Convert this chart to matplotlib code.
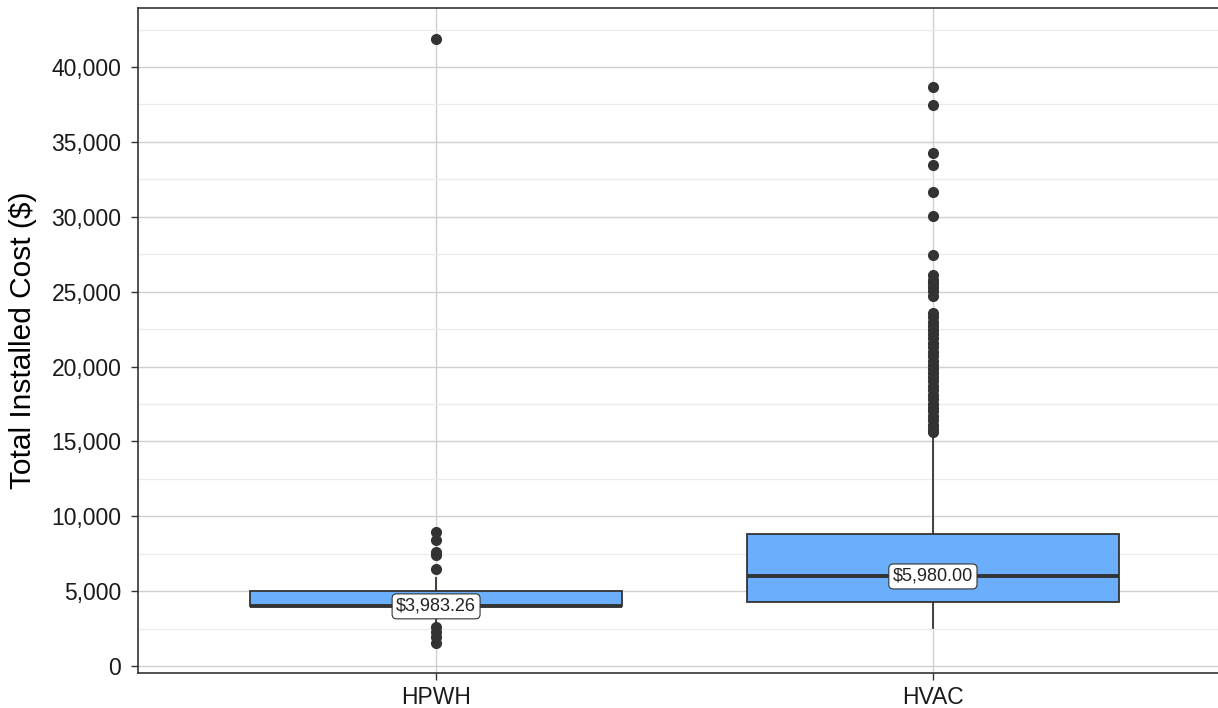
import matplotlib.pyplot as plt
from matplotlib.ticker import FuncFormatter, MultipleLocator

plt.rcParams["font.family"] = ["Liberation Sans", "DejaVu Sans"]

categories = ["HPWH", "HVAC"]
q1 = [3983.26, 4270]
medians = [3983.26, 5980.00]
q3 = [4990, 8810]
whisker_low = [2750, 2540]
whisker_high = [5880, 15500]
hpwh_outliers = [41900, 8950, 8420, 7610, 7410, 6480, 2620, 2290, 1960, 1520]
hvac_outliers = [38650, 37450, 34250, 33450, 31650, 30050, 27450,
                 26100, 25800, 25550, 25300, 25050, 24700,
                 23600, 23300, 23000, 22700, 22450, 22200, 21900, 21600,
                 21300, 21000, 20700, 20400, 20100, 19800, 19550, 19300,
                 19000, 18700, 18400, 18100, 17800, 17500, 17250, 17000,
                 16700, 16400, 16100, 15850, 15650]
outliers = [hpwh_outliers, hvac_outliers]

fill = "#6aaefc"
dark = "#333333"

fig = plt.figure(figsize=(12.18, 7.08), dpi=100)
# panel runs a little past the right edge of the figure
ax = fig.add_axes([138 / 1218, 35 / 708, 1093 / 1218, 665 / 708])

stats = []
for i, name in enumerate(categories):
    stats.append({
        "label": name,
        "q1": q1[i],
        "med": medians[i],
        "q3": q3[i],
        "whislo": whisker_low[i],
        "whishi": whisker_high[i],
        "fliers": outliers[i],
    })

positions = list(range(1, len(categories) + 1))
ax.bxp(
    stats,
    positions=positions,
    widths=0.75,
    patch_artist=True,
    showcaps=False,
    boxprops=dict(facecolor=fill, edgecolor=dark, linewidth=1.3),
    medianprops=dict(color=dark, linewidth=2.8, solid_capstyle="butt"),
    whiskerprops=dict(color=dark, linewidth=1.3),
    flierprops=dict(marker="o", markersize=7, markerfacecolor=dark,
                    markeredgecolor=dark, linestyle="none"),
    zorder=3,
)

for pos, med in zip(positions, medians):
    ax.text(pos, med, f"${med:,.2f}", ha="center", va="center",
            fontsize=13, color="#222222", zorder=5,
            bbox=dict(boxstyle="round,pad=0.22,rounding_size=0.25",
                      fc="white", ec=dark, lw=0.8))

ax.set_xlim(0.4, 2.6)
ax.set_ylim(-467, 43940)
ax.set_xticks(positions)
ax.set_xticklabels(categories)
ax.yaxis.set_major_locator(MultipleLocator(5000))
ax.yaxis.set_minor_locator(MultipleLocator(2500))
ax.yaxis.set_major_formatter(FuncFormatter(lambda v, _: f"{int(v):,}"))

ax.set_axisbelow(True)
ax.grid(which="major", axis="both", color="#d0d0d0", linewidth=1.0)
ax.grid(which="minor", axis="y", color="#ebebeb", linewidth=0.9)

ax.tick_params(which="major", length=5, width=1, color=dark,
               labelsize=16.5, labelcolor="#1a1a1a")
ax.tick_params(axis="y", pad=7)
ax.tick_params(axis="x", pad=4)
ax.tick_params(which="minor", length=0)

for spine in ax.spines.values():
    spine.set_color(dark)
    spine.set_linewidth(1.2)

ax.set_ylabel("Total Installed Cost ($)", fontsize=21.5, labelpad=10)

fig.savefig("out.png", dpi=100)
